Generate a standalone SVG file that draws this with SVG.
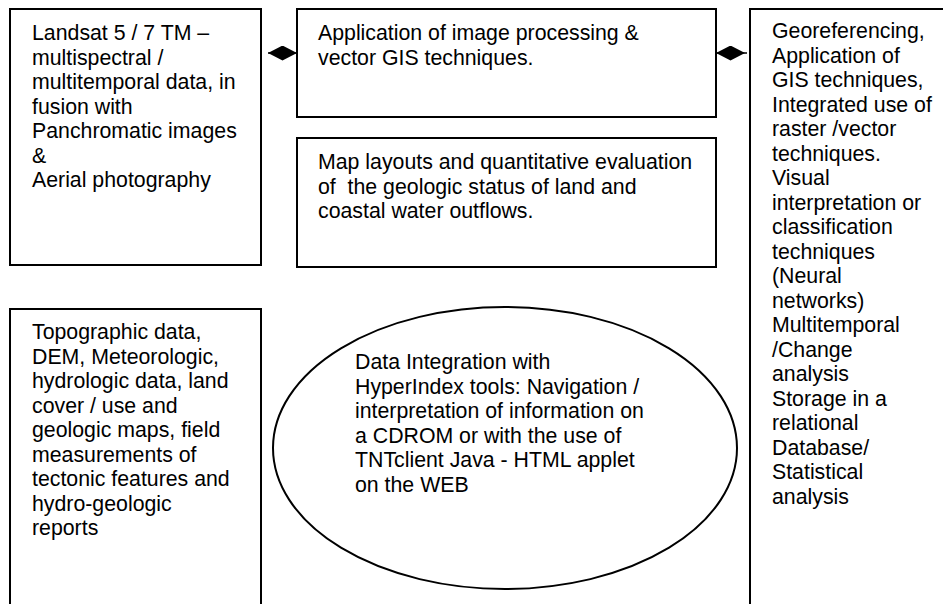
<svg xmlns="http://www.w3.org/2000/svg" width="943" height="604" viewBox="0 0 943 604">
<style>
.box{fill:#fff;stroke:#000;stroke-width:2}
.ell{fill:#fff;stroke:#000;stroke-width:2}
.t{font-family:"Liberation Sans",Arial,sans-serif;font-size:21.3px;fill:#000;white-space:pre}
.c{stroke:#000;stroke-width:1.5;fill:none}
</style>
<defs>
<marker id="dia" markerUnits="userSpaceOnUse" viewBox="0 0 29 15" refX="29" refY="7.5" markerWidth="29" markerHeight="15" orient="auto">
<path d="M0,7.5 L14.5,0 L29,7.5 L14.5,15 Z" fill="#000"/>
</marker>
</defs>
<rect width="943" height="604" fill="#fff"/>
<g id="landsat">
<rect class="box" x="10" y="9" width="251" height="256"/>
<text class="t" x="32" y="40">Landsat 5 / 7 TM –</text>
<text class="t" x="32" y="64.5">multispectral /</text>
<text class="t" x="32" y="89">multitemporal data, in</text>
<text class="t" x="32" y="113.5">fusion with</text>
<text class="t" x="32" y="138">Panchromatic images</text>
<text class="t" x="32" y="162.5">&amp;</text>
<text class="t" x="32" y="187">Aerial photography</text>
</g>
<g id="processing">
<rect class="box" x="297" y="9" width="419" height="108"/>
<text class="t" x="318" y="40">Application of image processing &amp;</text>
<text class="t" x="318" y="64.5">vector GIS techniques.</text>
</g>
<g id="maplayouts">
<rect class="box" x="297" y="138" width="419" height="129"/>
<text class="t" x="318" y="169">Map layouts and quantitative evaluation</text>
<text class="t" x="318" y="193.5">of  the geologic status of land and</text>
<text class="t" x="318" y="218">coastal water outflows.</text>
</g>
<g id="georef">
<rect class="box" x="750" y="9" width="260" height="620"/>
<text class="t" x="772" y="38">Georeferencing,</text>
<text class="t" x="772" y="62.5">Application of</text>
<text class="t" x="772" y="87">GIS techniques,</text>
<text class="t" x="772" y="111.5">Integrated use of</text>
<text class="t" x="772" y="136">raster /vector</text>
<text class="t" x="772" y="160.5">techniques.</text>
<text class="t" x="772" y="185">Visual</text>
<text class="t" x="772" y="209.5">interpretation or</text>
<text class="t" x="772" y="234">classification</text>
<text class="t" x="772" y="258.5">techniques</text>
<text class="t" x="772" y="283">(Neural</text>
<text class="t" x="772" y="307.5">networks)</text>
<text class="t" x="772" y="332">Multitemporal</text>
<text class="t" x="772" y="356.5">/Change</text>
<text class="t" x="772" y="381">analysis</text>
<text class="t" x="772" y="405.5">Storage in a</text>
<text class="t" x="772" y="430">relational</text>
<text class="t" x="772" y="454.5">Database/</text>
<text class="t" x="772" y="479">Statistical</text>
<text class="t" x="772" y="503.5">analysis</text>
</g>
<g id="topographic">
<rect class="box" x="10" y="309" width="251" height="320"/>
<text class="t" x="32" y="339">Topographic data,</text>
<text class="t" x="32" y="363.5">DEM, Meteorologic,</text>
<text class="t" x="32" y="388">hydrologic data, land</text>
<text class="t" x="32" y="412.5">cover / use and</text>
<text class="t" x="32" y="437">geologic maps, field</text>
<text class="t" x="32" y="461.5">measurements of</text>
<text class="t" x="32" y="486">tectonic features and</text>
<text class="t" x="32" y="510.5">hydro-geologic</text>
<text class="t" x="32" y="535">reports</text>
</g>
<g id="integration">
<ellipse class="ell" cx="505" cy="448" rx="232" ry="141"/>
<text class="t" x="355" y="369">Data Integration with</text>
<text class="t" x="355" y="393.5">HyperIndex tools: Navigation /</text>
<text class="t" x="355" y="418">interpretation of information on</text>
<text class="t" x="355" y="442.5">a CDROM or with the use of</text>
<text class="t" x="355" y="467">TNTclient Java - HTML applet</text>
<text class="t" x="355" y="491.5">on the WEB</text>
</g>
<g id="connectors">
<line class="c" x1="268" y1="53" x2="297" y2="53" marker-end="url(#dia)"/>
<line class="c" x1="747" y1="53" x2="716" y2="53" marker-end="url(#dia)"/>
</g>
</svg>
